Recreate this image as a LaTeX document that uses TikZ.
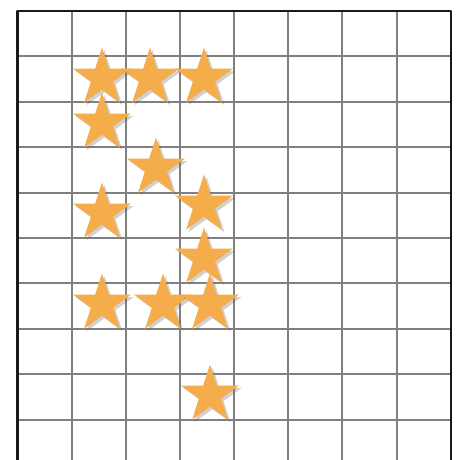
\documentclass[tikz,border=0pt]{standalone}
\usetikzlibrary{shapes.geometric,shadows}
\definecolor{starorange}{HTML}{F5AC4B}

\begin{document}
\begin{tikzpicture}[x=1pt,y=-1pt, line join=round,
	gridline/.style={draw=black!50, line width=2pt},
	frame/.style={draw=black!90, line width=2.4pt},
	goldstar/.style={star, star points=5, star point ratio=2.618, fill=starorange,
		inner sep=0pt, minimum size=61pt,
		drop shadow={shadow xshift=2.5pt, shadow yshift=-2.5pt, opacity=0.3, fill=black!60}}]
	\useasboundingbox (0,0) rectangle (464,460);
	\foreach \k in {1,...,7}
		\draw[gridline] (17.5+54.15*\k,11) -- (17.5+54.15*\k,460);
	\foreach \k in {1,...,9}
		\draw[gridline] (17.5,11+45.4*\k) -- (450.7,11+45.4*\k);
	\draw[frame] (17.5,460) -- (17.5,11) -- (450.7,11) -- (450.7,460);
	% stars
	\node[goldstar] (s1) at (102,78) {};
	\node[goldstar] (s2) at (150,78) {};
	\node[goldstar] (s3) at (204,78) {};
	\node[goldstar] (s4) at (102,123) {};
	\node[goldstar] (s5) at (156,168) {};
	\node[goldstar] (s6) at (102,213) {};
	\node[goldstar] (s7) at (204,205) {};
	\node[goldstar] (s8) at (204,258) {};
	\node[goldstar] (s9) at (102,304) {};
	\node[goldstar] (s10) at (163,304) {};
	\node[goldstar] (s11) at (210,304) {};
	\node[goldstar] (s12) at (210,395) {};
\end{tikzpicture}
\end{document}
